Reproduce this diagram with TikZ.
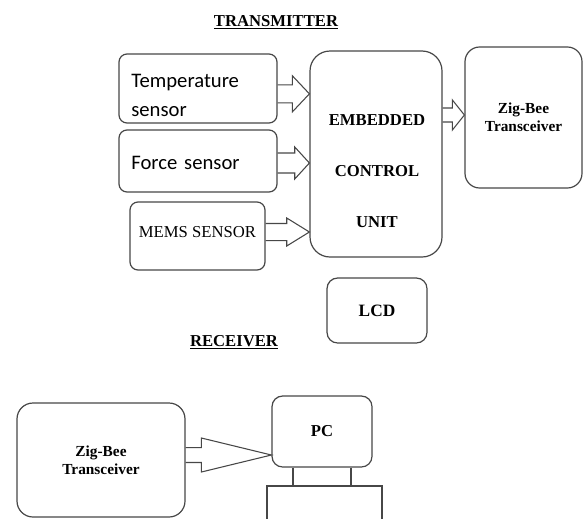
\documentclass[tikz,border=0pt]{standalone}
\usepackage{fontspec}
\setmainfont{Liberation Serif}
\newfontfamily\calibri{Carlito}
\usetikzlibrary{calc}

\newcommand{\hollowarrow}[5]{%
  \draw[flow] let \p1=(#1), \p2=(#2) in
    (\x1,\y1+#3) -- (\x2-#5,\y1+#3) -- (\x2-#5,\y1+#4) -- (\x2,\y1)
    -- (\x2-#5,\y1-#4) -- (\x2-#5,\y1-#3) -- (\x1,\y1-#3);}

\begin{document}
\begin{tikzpicture}[
  x=0.75pt,y=-0.75pt,
  box/.style={draw=black!72,line width=0.9pt,inner sep=0pt},
  flow/.style={draw=black!72,line width=0.8pt},
  heading/.style={font=\bfseries\fontsize{12.5}{15}\selectfont},
  bold/.style={align=center,font=\bfseries\fontsize{11.5}{13.5}\selectfont},
  sensor/.style={box,rounded corners=6pt,minimum width=118.5pt,align=left,text width=100pt,font=\calibri\fontsize{15.5}{22}\selectfont}
]
\useasboundingbox (0,0) rectangle (584,518);
\clip (0,0) rectangle (584,518);
\node[heading] (txtitle) at (276,22) {\underline{TRANSMITTER}};
\node[sensor,minimum height=51.75pt] (temp) at (198,88.5) {\rule{0pt}{20pt}Temperature\\sensor};
\node[sensor,minimum height=46.5pt] (force) at (198,161) {\rule{0pt}{13pt}Force sensor};
\node[box,rounded corners=6pt,minimum width=101.25pt,minimum height=51pt,font=\fontsize{12.5}{15}\selectfont] (mems) at (197.5,236) {MEMS SENSOR\rule[-6pt]{0pt}{6pt}};
\node[box,rounded corners=15pt,minimum width=99pt,minimum height=154.5pt] (ecu) at (376,154) {};
\node[bold,font=\bfseries\fontsize{12.5}{38}\selectfont] (ecutext) at (377,171) {EMBEDDED\\CONTROL\\UNIT};
\node[box,bold,rounded corners=11pt,minimum width=87.75pt,minimum height=105.75pt] (zigtx) at (523.5,117.5) {Zig-Bee\\Transceiver};
\node[box,bold,font=\bfseries\fontsize{13}{15}\selectfont,rounded corners=8pt,minimum width=75pt,minimum height=48.75pt] (lcd) at (377,310.5) {LCD};
\hollowarrow{[yshift=-4pt]temp.east}{ecu.west}{6.75pt}{13.5pt}{12.75pt}
\hollowarrow{[yshift=-1.5pt]force.east}{ecu.west}{7.5pt}{12pt}{11pt}
\hollowarrow{[yshift=3pt]mems.east}{ecu.west}{6.4pt}{10.5pt}{17pt}
\hollowarrow{[yshift=29.25pt]ecu.east}{zigtx.west}{5.25pt}{11.25pt}{9pt}
\node[heading] (rxtitle) at (234,342) {\underline{RECEIVER}};
\node[box,bold,rounded corners=12pt,minimum width=126pt,minimum height=85.5pt] (zigrx) at (101,460) {Zig-Bee\\Transceiver};
\node[box,bold,font=\bfseries\fontsize{12.5}{15}\selectfont,rounded corners=8pt,minimum width=75pt,minimum height=53.25pt] (pc) at (322,431.5) {PC};
\node[box,minimum width=86.25pt,minimum height=33pt] (base) at (324.5,508) {};
\draw[flow] ([xshift=-21.75pt]pc.south) -- ([xshift=-21.75pt]pc.south |- base.north);
\draw[flow] ([xshift=21.75pt]pc.south) -- ([xshift=21.75pt]pc.south |- base.north);
\hollowarrow{[yshift=3.75pt]zigrx.east}{pc.west}{5.6pt}{12.75pt}{52.5pt}
\end{tikzpicture}
\end{document}
